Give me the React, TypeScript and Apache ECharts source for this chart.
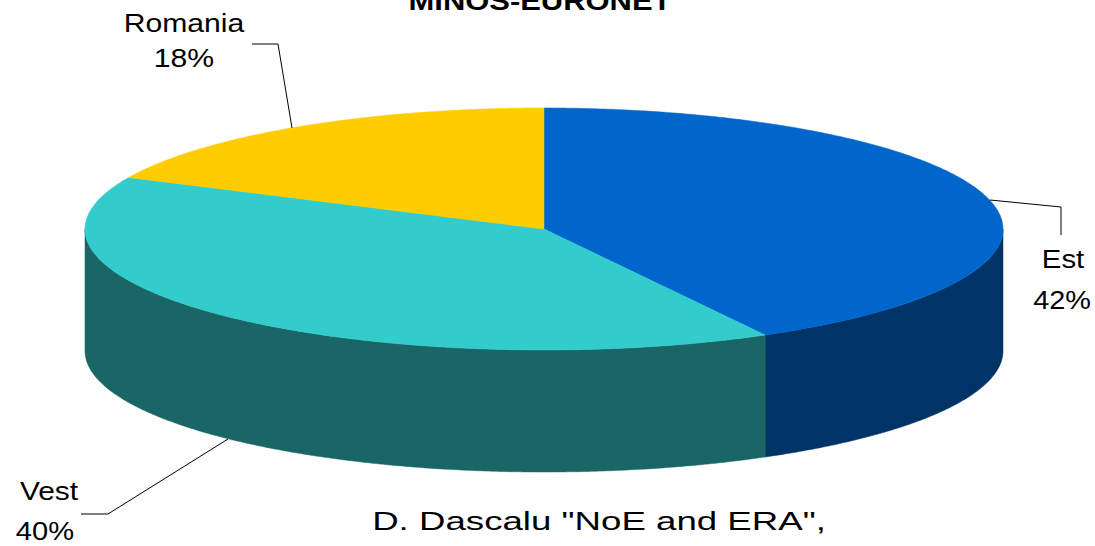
import React, { useEffect, useRef } from "react";
import * as echarts from "echarts";

const categories = ["Est", "Vest", "Romania"];
const values = [42, 40, 18];
const topColors = ["#0066CC", "#33CCCC", "#FFCC00"];
const sideColors = ["#003366", "#1A6666", "#B38F00"];
const titleText = "MINOS-EURONET";
const footerText = 'D. Dascalu "NoE and ERA",';

const CX = 544;
const CY = 229;
const RX = 459;
const RY = 121;
const DEPTH = 122;

const total = values.reduce((a, b) => a + b, 0);
const starts: number[] = [];
{
  let acc = 0;
  for (const v of values) {
    starts.push(acc);
    acc += v;
  }
}

function pt(deg: number, dy = 0): number[] {
  const r = (deg * Math.PI) / 180;
  return [CX + RX * Math.sin(r), CY - RY * Math.cos(r) + dy];
}

function arcPoints(a: number, b: number, dy = 0): number[][] {
  const pts: number[][] = [];
  const step = 0.5;
  if (b >= a) {
    for (let t = a; t < b; t += step) pts.push(pt(t, dy));
  } else {
    for (let t = a; t > b; t -= step) pts.push(pt(t, dy));
  }
  pts.push(pt(b, dy));
  return pts;
}

function pctLabel(i: number): string {
  return `${Math.round((values[i] / total) * 100)}%`;
}

export default function App() {
  const ref = useRef<HTMLDivElement>(null);
  useEffect(() => {
    if (!ref.current) return;
    const chart = echarts.init(ref.current, null, { renderer: "svg" });

    const labelFont = '26px "Liberation Sans", Arial, sans-serif';
    const mkText = (text: string, x: number, y: number, sx: number, font = labelFont) => ({
      type: "text",
      x,
      y,
      scaleX: sx,
      z: 10,
      style: {
        text,
        font,
        fill: "#000",
        align: "center",
        verticalAlign: "middle",
      },
    });
    const mkLine = (points: number[][]) => ({
      type: "polyline",
      z: 10,
      shape: { points },
      style: { stroke: "#000", lineWidth: 1, fill: "none" },
    });

    chart.setOption({
      animation: false,
      backgroundColor: "#fff",
      series: [
        {
          type: "custom",
          coordinateSystem: "none",
          z: 1,
          silent: true,
          data: values,
          renderItem: (params: any, api: any) => {
            const i = params.dataIndex;
            const v = api.value(0);
            const a = (starts[i] / total) * 360;
            const b = ((starts[i] + v) / total) * 360;
            const lo = Math.max(a, 90);
            const hi = Math.min(b, 270);
            if (hi <= lo) return { type: "group", children: [] };
            const top = arcPoints(lo, hi);
            const bottom = arcPoints(hi, lo, DEPTH);
            return {
              type: "polygon",
              shape: { points: top.concat(bottom) },
              style: { fill: sideColors[i], stroke: sideColors[i], lineWidth: 0.5 },
            };
          },
        },
        {
          type: "custom",
          coordinateSystem: "none",
          z: 2,
          silent: true,
          data: values,
          renderItem: (params: any, api: any) => {
            const i = params.dataIndex;
            const v = api.value(0);
            const a = (starts[i] / total) * 360;
            const b = ((starts[i] + v) / total) * 360;
            const points = [[CX, CY]].concat(arcPoints(a, b));
            return {
              type: "polygon",
              shape: { points },
              style: { fill: topColors[i], stroke: topColors[i], lineWidth: 0.5 },
            };
          },
        },
      ],
      graphic: [
        mkText(titleText, 540, 1, 1.19, 'bold 26px "Liberation Sans", Arial, sans-serif'),
        mkText(footerText, 599, 521, 1.41, '26px "Liberation Sans", Arial, sans-serif'),
        mkText(categories[2], 184, 23, 1.16),
        mkText(pctLabel(2), 184, 58, 1.16),
        mkText(categories[0], 1063, 259, 1.13),
        mkText(pctLabel(0), 1062, 300, 1.11),
        mkText(categories[1], 49, 491, 1.15),
        mkText(pctLabel(1), 45, 531, 1.12),
        mkLine([[252, 44], [278, 44], [292, 128]]),
        mkLine([[990, 200], [1061, 207], [1061, 235]]),
        mkLine([[81, 514], [108, 514], [228, 439]]),
      ],
    });
    return () => chart.dispose();
  }, []);
  return (
    <div
      ref={ref}
      style={{ position: "fixed", left: 0, top: 0, width: 1095, height: 546 }}
    />
  );
}
